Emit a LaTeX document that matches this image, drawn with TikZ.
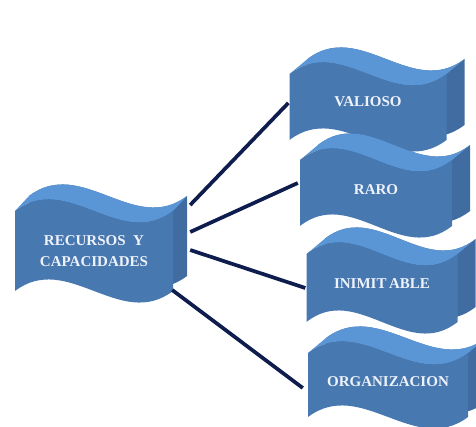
\documentclass[tikz,border=0pt]{standalone}
\usepackage{fontspec}
\setmainfont{Liberation Serif}
\usepackage{tikz}

\definecolor{wfront}{RGB}{72,120,176}
\definecolor{wtop}{RGB}{90,150,214}
\definecolor{wside}{RGB}{64,108,162}
\definecolor{wtext}{RGB}{238,242,250}
\definecolor{navy}{RGB}{14,28,78}

\tikzset{
	front/.style={fill=wfront},
	topband/.style={fill=wtop},
	sideface/.style={fill=wside},
	wavelabel/.style={text=wtext, font=\bfseries\fontsize{15}{21}\selectfont,
		align=center, inner sep=0pt},
	link/.style={draw=navy, line width=3.7pt}
}

% name, x, y, width, height, depth, drop of the wave below the text, text
\newcommand{\wavebox}[8]{%
	\begin{scope}[shift={(#2,#3+#7)}]
		\def\wvw{#4}\def\wvh{#5}\def\wvd{#6}\def\wvc{40}
		% back
		\fill[sideface, shift={(\wvd,-15)}] (-\wvw/2,-\wvh/2)
			.. controls (-\wvw/6,-\wvh/2-\wvc) and (\wvw/6,-\wvh/2+\wvc) .. (\wvw/2,-\wvh/2)
			-- (\wvw/2,\wvh/2)
			.. controls (\wvw/6,\wvh/2+\wvc) and (-\wvw/6,\wvh/2-\wvc) .. (-\wvw/2,\wvh/2) -- cycle;
		% top
		\fill[topband] (-\wvw/2,-\wvh/2)
			.. controls (-\wvw/6,-\wvh/2-\wvc) and (\wvw/6,-\wvh/2+\wvc) .. (\wvw/2,-\wvh/2)
			-- (\wvw/2+\wvd,-\wvh/2-15)
			.. controls (\wvw/6+\wvd,-\wvh/2+\wvc-15) and (-\wvw/6+\wvd,-\wvh/2-\wvc-15) .. (-\wvw/2+\wvd,-\wvh/2-15) -- cycle;
		% front
		\fill[front] (-\wvw/2,-\wvh/2)
			.. controls (-\wvw/6,-\wvh/2-\wvc) and (\wvw/6,-\wvh/2+\wvc) .. (\wvw/2,-\wvh/2)
			-- (\wvw/2,\wvh/2)
			.. controls (\wvw/6,\wvh/2+\wvc) and (-\wvw/6,\wvh/2-\wvc) .. (-\wvw/2,\wvh/2) -- cycle;
	\end{scope}
	\node[wavelabel, minimum width=#4pt, minimum height=#5pt] (#1) at (#2,#3) {#8};
}

\begin{document}
\begin{tikzpicture}[x=1pt,y=-1pt]
	\useasboundingbox (0,0) rectangle (476,427);

	% left
	\wavebox{rec}{94}{251}{158}{80}{14}{0}{RECURSOS\ \ Y\\CAPACIDADES}
	% right
	\wavebox{val}{368}{102}{157}{66}{18}{5}{VALIOSO}
	\wavebox{raro}{376}{190}{152}{66}{18}{3}{RARO}
	\wavebox{inim}{382}{284}{151}{68}{18}{4}{INIMIT\,ABLE}
	\wavebox{org}{388}{382}{160}{64}{18}{3}{ORGANIZACION}

	\draw[link] ([shift={(17,-46)}]rec.east) -- ([shift={(-1,1)}]val.west);
	\draw[link] ([shift={(17,-19)}]rec.east) -- ([shift={(-2,-7)}]raro.west);
	\draw[link] ([shift={(17,-1)}]rec.east) -- ([shift={(-1,4)}]inim.west);
	\draw[link] ([shift={(-1,39)}]rec.east) -- ([shift={(-5,6)}]org.west);
\end{tikzpicture}
\end{document}
